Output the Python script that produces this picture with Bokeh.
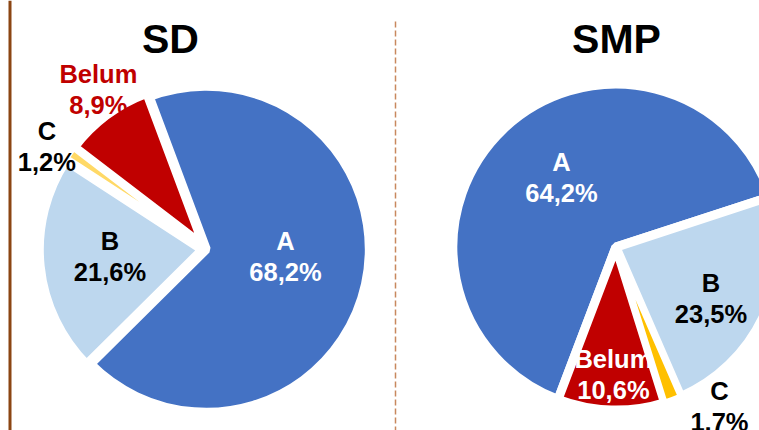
import math
from bokeh.plotting import figure
from bokeh.models import ColumnDataSource, Range1d
from bokeh.embed import file_html
from bokeh.resources import INLINE
from bokeh.core.properties import value

# ---------------- data ----------------
categories = ["A", "B", "C", "Belum"]
sd_values = [68.2, 21.6, 1.2, 8.9]
smp_values = [64.2, 23.5, 1.7, 10.6]
chart_titles = ["SD", "SMP"]

# ---------------- layout / style ----------------
W, H = 759, 430
colors = {
    "SD": {"A": "#4472C4", "B": "#BDD7EE", "C": "#FFD966", "Belum": "#C00000"},
    "SMP": {"A": "#4472C4", "B": "#BDD7EE", "C": "#FFC000", "Belum": "#C00000"},
}
label_colors = {
    "SD": {"A": "white", "B": "black", "C": "black", "Belum": "#C00000"},
    "SMP": {"A": "white", "B": "black", "C": "black", "Belum": "white"},
}
stroke = {"A": 9, "B": 9, "C": 6, "Belum": 9}
draw_order = ["A", "B", "Belum", "C"]
# pie geometry in screen pixels
pies = {
    "SD": dict(cx=205.8, cy=248.8, r=163, start=339.5, explode={"A": 0, "B": 4, "C": 4, "Belum": 4},
               title_xy=(170, 38),
               lab={"A": (0.488, -7.2), "B": (0.593, 1.5), "C": (1.163, -2.5), "Belum": (1.183, 2.5)}),
    "SMP": dict(cx=615.4, cy=246.6, r=163, start=200.8, explode={"A": 0, "B": 0, "C": 0, "Belum": 0},
                title_xy=(616, 38),
                lab={"A": (0.542, 5.6), "B": (0.662, 4.0), "C": (1.166, -12.6), "Belum": (0.782, -0.6)}),
}
LINE_GAP = 15.5
FONT = value("Liberation Sans")


def ydata(y_screen):
    return H - y_screen


p = figure(width=W, height=H, x_range=Range1d(0, W), y_range=Range1d(0, H),
           output_backend="svg", toolbar_location=None, min_border=0)
p.axis.visible = False
p.grid.visible = False
p.outline_line_color = None
p.background_fill_color = "white"
p.border_fill_color = "white"

# frame lines
p.line([9.5, 9.5], [ydata(0), ydata(430)], line_color="#8B4513", line_width=3)
p.line([395, 395], [ydata(21), ydata(430)], line_color="#C8885E", line_width=1.5, line_dash="6 3")

for title, vals in zip(chart_titles, [sd_values, smp_values]):
    g = pies[title]
    total = sum(vals)
    theta = g["start"]
    wedges = {}
    lx, ly1, ly2, names, pcts, lcols = [], [], [], [], [], []
    for cat, v in zip(categories, vals):
        span = v / total * 360.0
        t1, t2 = theta, theta + span
        tm = (t1 + t2) / 2
        e = g["explode"][cat]
        cx = g["cx"] + e * math.sin(math.radians(tm))
        cy = ydata(g["cy"]) + e * math.cos(math.radians(tm))
        wedges[cat] = (cx, cy, math.radians(90 - t2), math.radians(90 - t1))
        k, nudge = g["lab"][cat]
        a = math.radians(tm + nudge)
        px = g["cx"] + k * g["r"] * math.sin(a)
        py = ydata(g["cy"]) + k * g["r"] * math.cos(a)
        lx.append(px)
        ly1.append(py + LINE_GAP)
        ly2.append(py - LINE_GAP)
        names.append(cat)
        pcts.append(f"{v:.1f}".replace(".", ",") + "%")
        lcols.append(label_colors[title][cat])
        theta = t2
    src = ColumnDataSource(dict(
        x=[wedges[c][0] for c in draw_order],
        y=[wedges[c][1] for c in draw_order],
        s=[wedges[c][2] for c in draw_order],
        e=[wedges[c][3] for c in draw_order],
        fill=[colors[title][c] for c in draw_order],
        lw=[stroke[c] for c in draw_order],
    ))
    p.wedge(x="x", y="y", radius=g["r"], radius_units="screen", start_angle="s", end_angle="e",
            fill_color="fill", line_color="white", line_width="lw", source=src)
    lsrc = ColumnDataSource(dict(x=lx, y1=ly1, y2=ly2, name=names, pct=pcts, col=lcols))
    p.text(x="x", y="y1", text="name", text_color="col", source=lsrc, text_font=FONT,
           text_font_style="bold", text_font_size="25.5px", text_align="center", text_baseline="middle")
    p.text(x="x", y="y2", text="pct", text_color="col", source=lsrc, text_font=FONT,
           text_font_style="bold", text_font_size="25.5px", text_align="center", text_baseline="middle")
    tx, ty = g["title_xy"]
    p.text(x=[tx], y=[ydata(ty)], text=[title], text_color="black", text_font=FONT,
           text_font_style="bold", text_font_size="41px", text_align="center", text_baseline="middle")

open("out.html", "w").write(file_html(p, INLINE))
